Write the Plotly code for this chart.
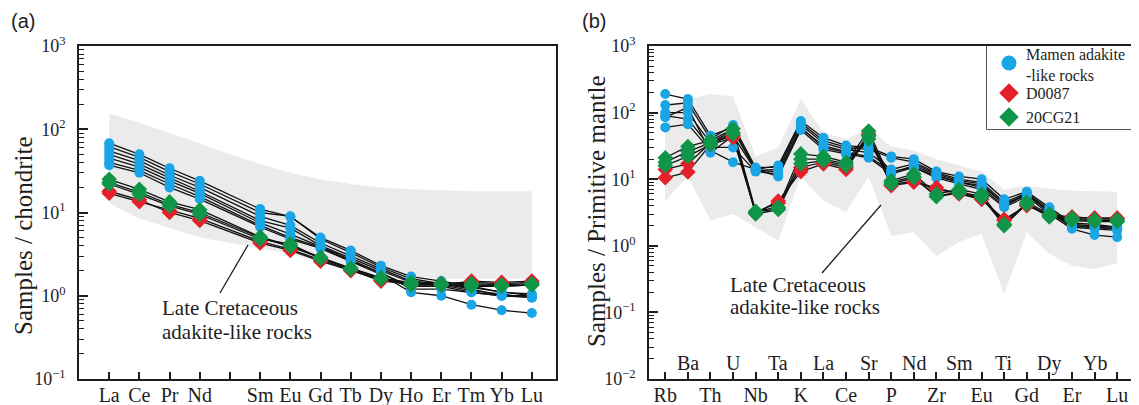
import plotly.graph_objects as go

# ---------------- data: panel (a) chondrite-normalised REE ----------------
ree = ["La", "Ce", "Pr", "Nd", "Pm", "Sm", "Eu", "Gd", "Tb", "Dy", "Ho", "Er", "Tm", "Yb", "Lu"]
ree_labels = ["La", "Ce", "Pr", "Nd", "", "Sm", "Eu", "Gd", "Tb", "Dy", "Ho", "Er", "Tm", "Yb", "Lu"]

ree_band_upper = [155, 120, 90, 68, 50, 38, 30, 25, 22, 20, 19, 18.5, 18, 18, 18]
ree_band_lower = [13, 8.5, 6.5, 5.0, 4.3, 3.7, 3.2, 2.5, 2.0, 1.8, 1.7, 1.6, 1.6, 1.6, 1.6]

ree_blue = [
    [68, 50, 34, 24, None, 11, 8.9, 5.0, 3.5, 2.3, 1.7, 1.5, 1.3, 1.1, 1.05],
    [62, 46, 31, 22, None, 10, 9.0, 4.8, 3.3, 2.2, 1.6, 1.4, 1.25, 1.1, 1.0],
    [55, 42, 28, 20, None, 9, 7.0, 4.3, 3.0, 2.1, 1.5, 1.4, 1.2, 1.0, 1.0],
    [50, 38, 26, 18, None, 8, 6.5, 4.0, 2.8, 2.0, 1.45, 1.35, 1.15, 1.05, 0.95],
    [45, 35, 24, 17, None, 7.5, 5.5, 3.9, 2.7, 1.9, 1.3, 1.3, 1.1, 1.0, 0.95],
    [40, 32, 22, 15.5, None, 7, 5.0, 3.8, 2.6, 1.9, 1.2, 1.2, 1.1, 1.0, 1.0],
    [37, 30, 20, 14.5, None, 6.7, 4.8, 3.7, 2.6, 1.8, 1.1, 1.0, 0.78, 0.67, 0.62],
]
ree_red = [
    [18, 14.2, 10, 8, None, 4.3, 3.5, 2.6, 2.0, 1.55, 1.35, 1.35, 1.5, 1.45, 1.5],
    [17, 13.5, 10.5, 8.5, None, 4.5, 3.6, 2.7, 2.05, 1.5, 1.4, 1.4, 1.45, 1.4, 1.45],
]
ree_green = [
    [25, 19, 13.4, 10.8, None, 5.1, 4.0, 2.9, 2.15, 1.65, 1.4, 1.35, 1.3, 1.3, 1.35],
    [23, 17.5, 12.5, 10, None, 5.0, 3.9, 2.85, 2.1, 1.6, 1.35, 1.35, 1.35, 1.3, 1.35],
    [22, 16.5, 12, 9.5, None, 4.8, 4.2, 2.8, 2.1, 1.6, 1.45, 1.4, 1.4, 1.35, 1.4],
]

# ---------------- data: panel (b) primitive-mantle-normalised ----------------
pm = ["Rb", "Ba", "Th", "U", "Nb", "Ta", "K", "La", "Ce", "Sr", "P",
      "Nd", "Zr", "Sm", "Eu", "Ti", "Gd", "Dy", "Er", "Yb", "Lu"]

pm_band_upper = [125, 160, 190, 175, 22, 30, 160, 50, 40, 57, 31,
                 27, 20, 16, 13, 7, 8, 7.2, 6.7, 6.6, 6.5]
pm_band_lower = [4.7, 11, 2.4, 3.0, 1.9, 1.2, 11, 4.7, 3.2, 11, 1.4,
                 1.6, 0.7, 1.15, 1.5, 0.19, 1.6, 0.75, 0.5, 0.45, 0.55]

pm_blue = [
    [190, 160, 45, 60, 14, 16, 75, 42, 32, 30, 22, 20, 13, 11, 10, 5.0, 6.5, 3.8, 2.2, 2.1, 1.9],
    [130, 140, 40, 65, 15, 15, 70, 38, 30, 28, 21, 18, 12.5, 10, 9, 4.5, 6.2, 3.5, 2.1, 2.0, 1.9],
    [100, 100, 35, 55, 13.5, 14, 65, 35, 28, 25, 14, 17, 12, 9.5, 8.5, 4.2, 6.0, 3.3, 2.0, 1.9, 1.8],
    [90, 80, 30, 30, 13, 12, 60, 30, 25, 22, 13, 15, 11, 9, 7.5, 4.0, 5.8, 3.2, 1.9, 1.8, 1.7],
    [60, 67, 27, 18, 14, 11, 55, 28, 24, 21, 12, 15, 10.5, 8.5, 7, 3.8, 5.5, 3.0, 1.8, 1.45, 1.35],
    [85, 120, 25, 45, 13.5, 13, 58, 32, 26, 35, 12.5, 16, 11.5, 9, 8, 4.3, 5.8, 3.4, 2.0, 1.9, 1.8],
]
pm_red = [
    [10.5, 12.8, 33, 42, 3.1, 4.7, 13, 17, 14, 45, 8, 9, 7.5, 6, 5, 2.5, 4.0, 2.9, 2.7, 2.6, 2.6],
    [14, 17, 35, 45, 3.2, 4.4, 15, 18, 15, 48, 8.2, 9.5, 7, 6.2, 5, 2.4, 4.1, 2.9, 2.7, 2.6, 2.6],
]
pm_green = [
    [21, 31, 38, 57, 3.3, 3.8, 24, 22, 18, 53, 9.5, 12, 6, 7, 6, 2.1, 4.5, 3.0, 2.6, 2.45, 2.45],
    [18, 26, 35, 50, 3.2, 3.6, 20, 20, 17, 45, 9, 11, 5.5, 6.5, 5.5, 2.0, 4.3, 2.8, 2.5, 2.4, 2.4],
    [16, 22, 33, 48, 3.0, 3.5, 17, 19, 16, 40, 8.5, 10.5, 5.5, 6.2, 5.3, 2.1, 4.2, 2.7, 2.4, 2.3, 2.3],
]

legend_names = ["Mamen adakite<br>-like rocks", "D0087", "20CG21"]
annot_lines = ["Late Cretaceous", "adakite-like rocks"]

# ---------------- styling ----------------
SERIF = "Liberation Serif"
SANS = "Liberation Sans"
INK = "#1e1e1e"
BAND = "#ebebeb"
BLUE = "#1aa6e6"
RED = "#e5202a"
GREEN = "#0f9648"

# the page body adds an 8px offset; lay out in screen pixels and subtract it
OFF = 8
W, H = 1139, 405


def fx(px):
    return (px - OFF) / W


def fy(py):
    return 1 - (py - OFF) / H


fig = go.Figure()


def add_panel(names, upper, lower, groups, xa, ya):
    n = len(names)
    idx = list(range(n))
    fig.add_trace(go.Scatter(
        x=idx + idx[::-1], y=upper + lower[::-1], fill="toself", fillcolor=BAND,
        mode="lines", line=dict(width=0, color=BAND), hoverinfo="skip",
        showlegend=False, xaxis=xa, yaxis=ya))
    for samples, _, _, _ in groups:
        for s in samples:
            fig.add_trace(go.Scatter(
                x=idx, y=s, mode="lines", connectgaps=True,
                line=dict(color="#111111", width=1.3), showlegend=False,
                hoverinfo="skip", xaxis=xa, yaxis=ya))
    for samples, color, symbol, size in groups:
        for s in samples:
            xs = [i for i, v in zip(idx, s) if v is not None]
            ys = [v for v in s if v is not None]
            fig.add_trace(go.Scatter(
                x=xs, y=ys, mode="markers",
                marker=dict(color=color, symbol=symbol, size=size, line=dict(width=0)),
                showlegend=False, xaxis=xa, yaxis=ya))


add_panel(ree, ree_band_upper, ree_band_lower,
          [(ree_blue, BLUE, "circle", 10),
           (ree_red, RED, "diamond", 12),
           (ree_green, GREEN, "diamond", 12)],
          "x", "y")
add_panel(pm, pm_band_upper, pm_band_lower,
          [(pm_blue, BLUE, "circle", 10),
           (pm_red, RED, "diamond", 12),
           (pm_green, GREEN, "diamond", 12)],
          "x2", "y2")

L1, R1 = 79, 556
L2, R2 = 649, 1133
TOP, BOT = 46, 379
ydom = [fy(BOT), fy(TOP)]

# legend box (screen pixels)
LGL, LGR, LGT, LGB = 987, 1133, 46, 129
leg_rows = [63, 93, 117]
leg_text_rows = [65, 93, 117]
leg_sym_x = 1009
leg_txt_x = 1024
leg_symbols = [("circle", BLUE, 15), ("diamond", RED, 15), ("diamond", GREEN, 15)]

for (sym, col, sz), row in zip(leg_symbols, leg_rows):
    fig.add_trace(go.Scatter(x=[leg_sym_x], y=[row], mode="markers",
                             marker=dict(symbol=sym, color=col, size=sz, line=dict(width=0)),
                             showlegend=False, hoverinfo="skip", xaxis="x3", yaxis="y3"))


def minor_vals(lo, hi):
    out = []
    for k in range(lo, hi):
        for m in range(2, 10):
            out.append(m * 10 ** k)
    return out


def sup(k):
    return "10<sup>" + (("\u2212" + str(-k)) if k < 0 else str(k)) + "</sup>"


axis_common = dict(showline=True, linecolor=INK, linewidth=1.6, mirror=True, automargin=False,
                   showgrid=False, zeroline=False, ticks="inside", tickcolor=INK)

fig.update_layout(
    template="none",
    width=W, height=H, margin=dict(l=0, r=0, t=0, b=0, autoexpand=False),
    paper_bgcolor="white", plot_bgcolor="white",
    font=dict(family=SERIF, color=INK),
    showlegend=False,
    xaxis=dict(domain=[fx(L1), fx(R1)], range=[-1.0, 14.8], tickmode="array",
               tickvals=list(range(len(ree))), ticktext=ree_labels, ticklen=7, tickwidth=1.5,
               tickfont=dict(size=20, family=SERIF, color=INK), anchor="y", **axis_common),
    yaxis=dict(domain=ydom, type="log", range=[-1, 3], tickmode="array",
               tickvals=[10 ** k for k in range(-1, 4)], ticktext=[sup(k) for k in range(-1, 4)],
               ticklen=9, tickwidth=1.5, tickfont=dict(size=18, family=SERIF, color=INK),
               ticklabelstandoff=8, anchor="x",
               minor=dict(ticks="inside", tickvals=minor_vals(-1, 3), ticklen=5,
                          tickwidth=1.2, tickcolor=INK, showgrid=False),
               **axis_common),
    xaxis2=dict(domain=[fx(L2), fx(R2)], range=[-0.72, 20.7], tickmode="array",
                tickvals=list(range(len(pm))),
                ticktext=[p if i % 2 == 0 else "" for i, p in enumerate(pm)],
                ticklen=7, tickwidth=1.5, tickfont=dict(size=20, family=SERIF, color=INK),
                anchor="y2", **axis_common),
    yaxis2=dict(domain=ydom, type="log", range=[-2, 3], tickmode="array",
                tickvals=[10 ** k for k in range(-2, 4)], ticktext=[sup(k) for k in range(-2, 4)],
                ticklen=9, tickwidth=1.5, tickfont=dict(size=18, family=SERIF, color=INK),
                ticklabelstandoff=8, anchor="x2",
                minor=dict(ticks="inside", tickvals=minor_vals(-2, 3), ticklen=5,
                           tickwidth=1.2, tickcolor=INK, showgrid=False),
                **axis_common),
    xaxis3=dict(domain=[fx(LGL), fx(LGR)], range=[LGL, LGR], visible=False,
                fixedrange=True, anchor="y3"),
    yaxis3=dict(domain=[fy(LGB), fy(LGT)], range=[LGB, LGT], visible=False,
                fixedrange=True, anchor="x3"),
)

# pull the bottom tick labels a few pixels up so they sit inside the page
try:
    fig.update_layout(xaxis_ticklabelstandoff=-3, xaxis2_ticklabelstandoff=-3)
except ValueError:
    pass

ann = []
ann.append(dict(text="(a)", x=fx(23), y=fy(21), xref="paper", yref="paper",
                xanchor="center", yanchor="middle",
                showarrow=False, font=dict(family=SANS, size=20, color=INK)))
ann.append(dict(text="(b)", x=fx(594), y=fy(21), xref="paper", yref="paper",
                xanchor="center", yanchor="middle",
                showarrow=False, font=dict(family=SANS, size=20, color=INK)))
ann.append(dict(text="Samples / chondrite", x=fx(23), y=fy(236), xref="paper", yref="paper",
                xanchor="center", yanchor="middle",
                textangle=-90, showarrow=False, font=dict(size=25, family=SERIF, color=INK)))
ann.append(dict(text="Samples / Primitive mantle", x=fx(596), y=fy(211), xref="paper",
                yref="paper", xanchor="center", yanchor="middle", textangle=-90, showarrow=False,
                font=dict(size=25, family=SERIF, color=INK)))
for i, p in enumerate(pm):
    if i % 2 == 1:
        ann.append(dict(text=p, x=i, xref="x2", y=(BOT - 363) / (BOT - TOP), yref="y2 domain",
                        xanchor="center", yanchor="middle",
                        showarrow=False, font=dict(size=20, family=SERIF, color=INK)))
for (px, py1, py2, xa, x0, x1) in [(160, 308, 332, "x", L1, R1), (728, 285, 307, "x2", L2, R2)]:
    for txt, py in zip(annot_lines, (py1, py2)):
        ann.append(dict(text=txt, x=(px - x0) / (x1 - x0), xref=xa + " domain",
                        y=(BOT - py) / (BOT - TOP), yref=("y" if xa == "x" else "y2") + " domain",
                        xanchor="left", yanchor="middle", showarrow=False,
                        font=dict(size=21, family=SERIF, color=INK)))
for txt, row in zip(legend_names, leg_text_rows):
    ann.append(dict(text=txt, x=leg_txt_x, y=row, xref="x3", yref="y3",
                    xanchor="left", yanchor="middle", align="left", showarrow=False,
                    font=dict(size=16, family=SERIF, color=INK)))
fig.update_layout(annotations=ann)

fig.add_shape(type="rect", xref="paper", yref="paper",
              x0=fx(LGL), x1=fx(LGR), y0=fy(LGB), y1=fy(LGT),
              line=dict(color=INK, width=1.5), fillcolor="white", layer="below")

for (xa, ya, x0, x1, p0, p1) in [("x", "y", L1, R1, (220, 293), (248, 245)),
                                 ("x2", "y2", L2, R2, (822, 273), (881, 205))]:
    fig.add_shape(type="line", xref=xa + " domain", yref=ya + " domain",
                  x0=(p0[0] - x0) / (x1 - x0), y0=(BOT - p0[1]) / (BOT - TOP),
                  x1=(p1[0] - x0) / (x1 - x0), y1=(BOT - p1[1]) / (BOT - TOP),
                  line=dict(color=INK, width=1.3))

fig.write_html("out.html")
